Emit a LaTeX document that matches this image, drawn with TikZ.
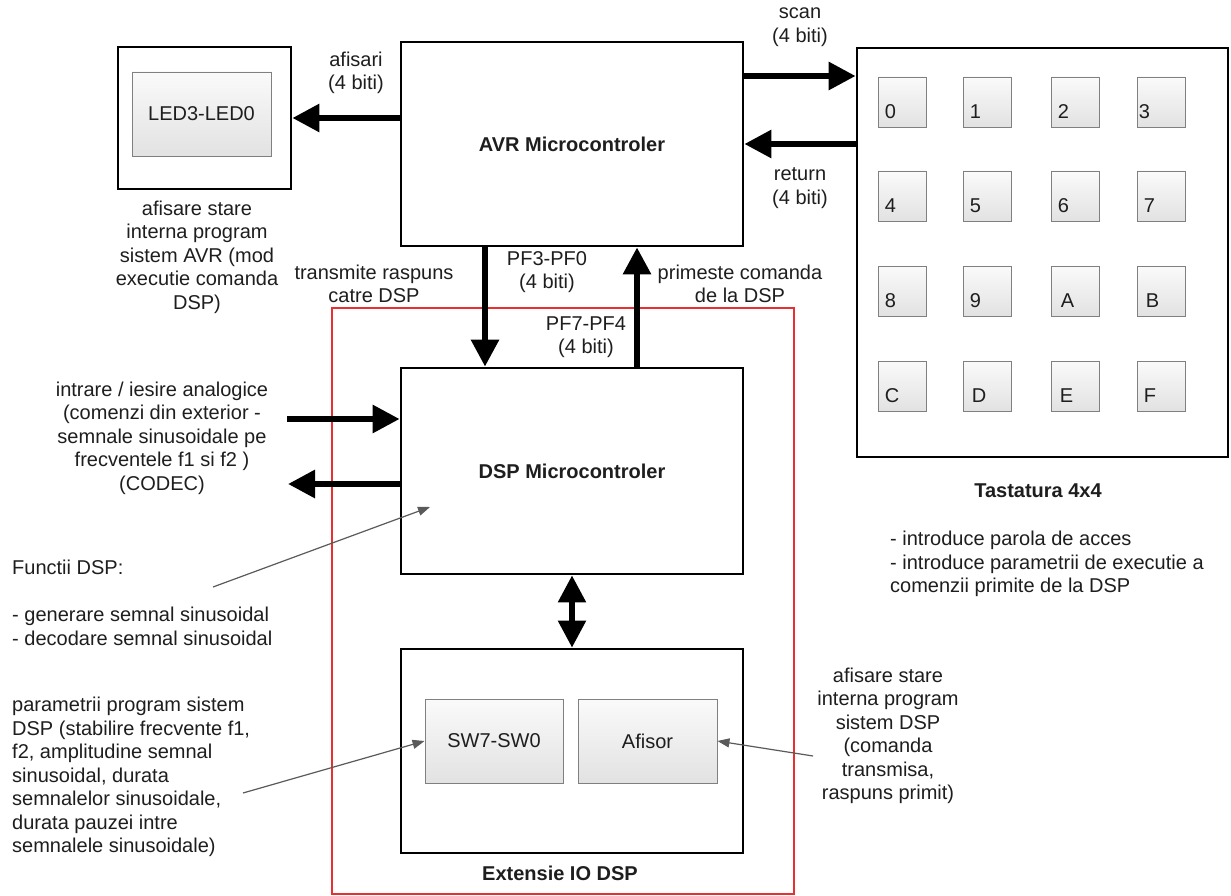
\documentclass[tikz,border=0pt]{standalone}
\usepackage{fontspec}
\setmainfont{Liberation Sans}
\usetikzlibrary{arrows.meta,calc}
\definecolor{txt}{RGB}{30,30,30}
\definecolor{redbox}{RGB}{232,48,48}
\definecolor{gborder}{RGB}{128,128,128}
\definecolor{gtop}{RGB}{250,250,250}
\definecolor{gbot}{RGB}{226,226,226}
\definecolor{thinc}{RGB}{90,90,90}
\begin{document}
\begin{tikzpicture}[x=1pt,y=-1pt,
  every node/.style={text=txt},
  blk/.style={draw=black, line width=2.8pt, inner sep=0pt, font=\fontsize{20}{23.5}\selectfont\bfseries},
  gbox/.style={draw=gborder, line width=0.9pt, top color=gtop, bottom color=gbot, inner sep=0pt, font=\fontsize{20}{23.5}\selectfont},
  keybox/.style={gbox, minimum width=48pt, minimum height=50pt},
  big/.style={line width=6pt, -{Triangle[length=27pt,width=27pt]}},
  bigboth/.style={line width=5.5pt, {Triangle[length=27pt,width=27pt]}-{Triangle[length=27pt,width=27pt]}},
  thinarrow/.style={draw=thinc, line width=1.2pt, -{Triangle[length=12pt,width=9pt]}},
  lbl/.style={font=\fontsize{20}{23.5}\selectfont, align=center, inner sep=0pt},
  lbll/.style={font=\fontsize{20}{23.5}\selectfont, align=left, inner sep=0pt},
  ttl/.style={font=\fontsize{20}{23.5}\selectfont\bfseries, inner sep=0pt},
]
\fill[white] (0,0) rectangle (1231,896);
\useasboundingbox (0,0) rectangle (1231,896);

% red frame
\node[draw=redbox, line width=1.5pt, minimum width=462pt, minimum height=586pt, inner sep=0pt] (red) at (563,601) {};

% main boxes
\node[blk, minimum width=173pt, minimum height=142pt] (led) at (204.5,118) {};
\node[gbox, minimum width=139pt, minimum height=84pt] (ledin) at (201.5,114) {LED3-LED0};
\node[blk, minimum width=342pt, minimum height=204pt] (avr) at (572,144) {AVR Microcontroler};
\node[blk, minimum width=371pt, minimum height=409pt] (kp) at (1042.5,252.5) {};
\node[blk, minimum width=342pt, minimum height=206pt] (dsp) at (572,471) {DSP Microcontroler};
\node[blk, minimum width=342pt, minimum height=204pt] (ext) at (572,751) {};
\node[gbox, minimum width=138pt, minimum height=84pt] (sw) at (494,741) {SW7-SW0};
\node[gbox, minimum width=139pt, minimum height=84pt] (af) at (647.5,741) {Afisor};

% keys
\foreach \lab/\cx/\cy/\dx in {0/902/102/7, 1/987/102/7, 2/1075/102/7, 3/1161/102/2,
  4/902/196/7, 5/987/196/7, 6/1075/196/7, 7/1161/196/7,
  8/902/291/7, 9/987/291/7, A/1075/291/10, B/1161/291/9,
  C/902/386/7, D/987/386/9, E/1075/386/9, F/1161/386/7}{
  \node[keybox] (k\lab) at (\cx,\cy) {};
  \node[lbl, anchor=base west] (kl\lab) at ($(k\lab.south west)+(\dx,-9)$) {\lab};
}

% helper coordinates
\coordinate (scanY) at (0,76);
\coordinate (retY) at (0,144);
\coordinate (dnX) at (485,0);
\coordinate (upX) at (637,0);
\coordinate (ain) at (287,419);
\coordinate (aout) at (288,484);
\coordinate (fnT) at (213,587);
\coordinate (fnH) at (430,507);
\coordinate (swT) at (243,793);
\coordinate (afT) at (813,756);

% thick connectors
\draw[big] (avr.west |- led.east) -- (led.east);
\draw[big] (avr.east |- scanY) -- (kp.west |- scanY);
\draw[big] (kp.west |- retY) -- (avr.east |- retY);
\draw[big] (avr.south -| dnX) -- (dsp.north -| dnX);
\draw[big] (dsp.north -| upX) -- (avr.south -| upX);
\draw[bigboth] (dsp.south) -- (ext.north);
\draw[big] (ain) -- (ain -| dsp.west);
\draw[big] (aout -| dsp.west) -- (aout);

% thin pointers
\draw[thinarrow] (fnT) -- (fnH);
\draw[thinarrow] (swT) -- (sw.west);
\draw[thinarrow] (afT) -- (af.east);

% labels
\node[lbl] (afisariL) at (356,73) {afisari\\(4 biti)};
\node[lbl] (ledcap) at (197,257) {afisare stare\\interna program\\sistem AVR (mod\\executie comanda\\DSP)};
\node[lbl] (trL) at (374,284) {transmite raspuns\\catre DSP};
\node[lbl] (pf30) at (547,272) {PF3-PF0\\(4 biti)};
\node[lbl] (prL) at (740,284) {primeste comanda\\de la DSP};
\node[lbl] (pf74) at (586,337) {PF7-PF4\\(4 biti)};
\node[lbl] (scanL) at (800,27) {scan\\(4 biti)};
\node[lbl] (retL) at (800,188) {return\\(4 biti)};
\node[ttl] (kpT) at (1038,491) {Tastatura 4x4};
\node[lbll, anchor=west] (kpD) at (890,564) {- introduce parola de acces\\- introduce parametrii de executie a\\comenzii primite de la DSP};
\node[lbl] (anL) at (162,438) {intrare / iesire analogice\\(comenzi din exterior -\\semnale sinusoidale pe\\frecventele f1 si f2 )\\(CODEC)};
\node[lbll, anchor=west] (fnL) at (12,603) {Functii DSP:\\\mbox{}\\- generare semnal sinusoidal\\- decodare semnal sinusoidal};
\node[lbll, anchor=west] (parL) at (12,777) {parametrii program sistem\\DSP (stabilire frecvente f1,\\f2, amplitudine semnal\\sinusoidal, durata\\semnalelor sinusoidale,\\durata pauzei intre\\semnalele sinusoidale)};
\node[lbl] (dspcap) at (888,736) {afisare stare\\interna program\\sistem DSP\\(comanda\\transmisa,\\raspuns primit)};
\node[ttl] (extT) at (560,873) {Extensie IO DSP};
\end{tikzpicture}
\end{document}
